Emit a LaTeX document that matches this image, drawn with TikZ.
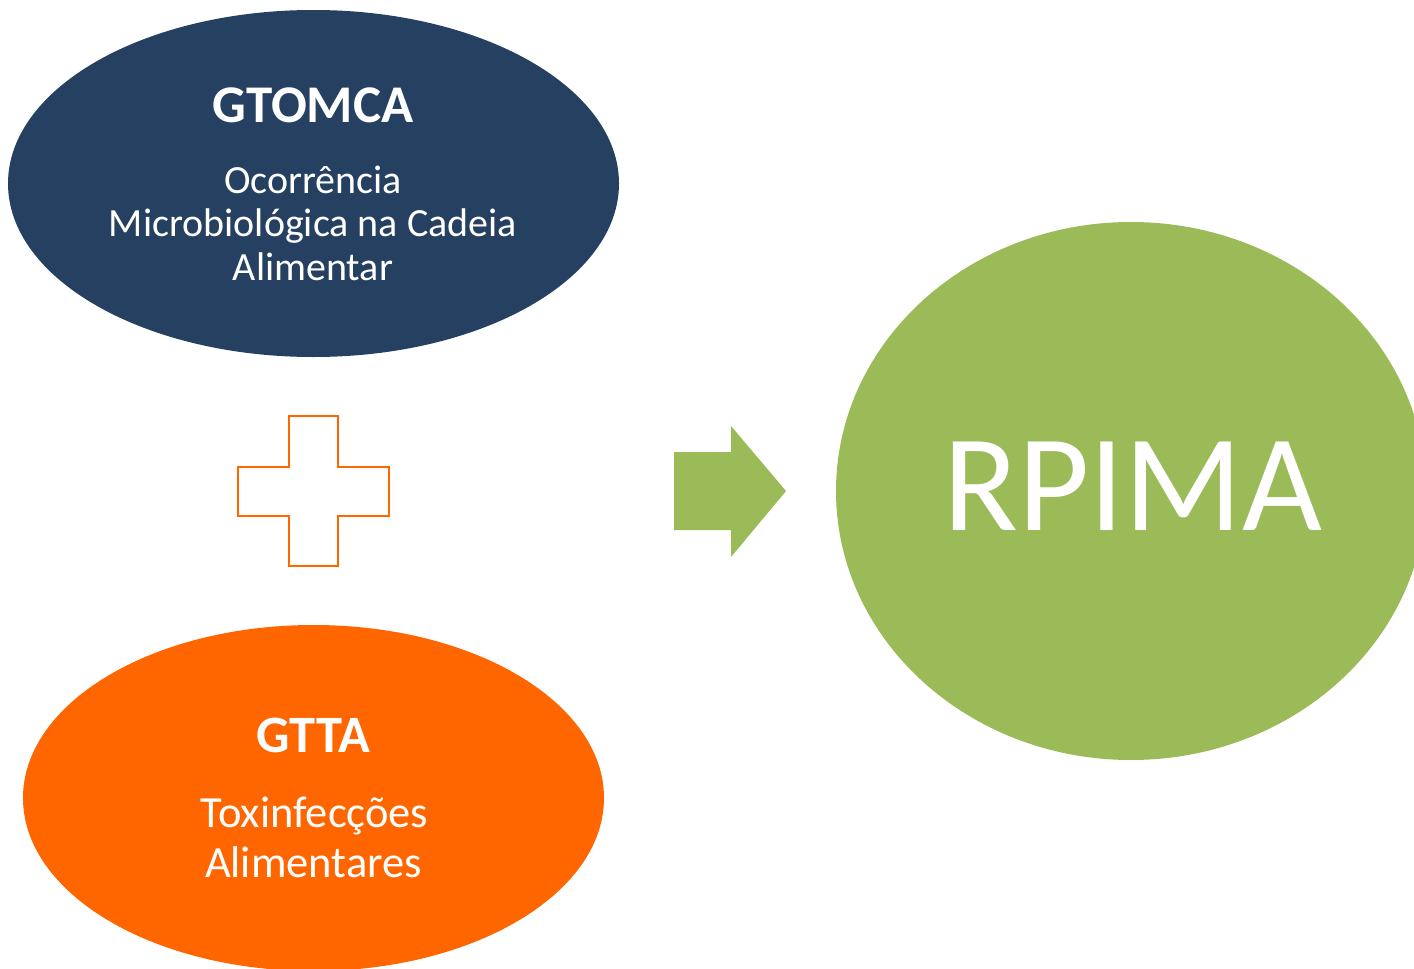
\documentclass[tikz,border=0pt]{standalone}
\usepackage{fontspec}
\setmainfont{Carlito}
\usetikzlibrary{shapes.geometric}
\definecolor{navy}{HTML}{264061}
\definecolor{orng}{HTML}{FF6600}
\definecolor{grn}{HTML}{9BBB59}
\tikzset{
  blob/.style={ellipse, inner sep=0pt, draw=none},
  txt/.style={text=white, inner sep=0pt, anchor=base},
}
\begin{document}
\begin{tikzpicture}[x=1pt,y=-1pt]
\useasboundingbox (0,0) rectangle (1414,969);
\clip (0,0) rectangle (1414,969);
% ellipses
\node[blob, fill=navy, minimum width=611pt, minimum height=347pt] (top) at (313.5,183.5) {};
\node[blob, fill=orng, minimum width=581pt, minimum height=346pt] (bot) at (313.5,798) {};
\node[blob, fill=grn, minimum width=590pt, minimum height=538pt] (res) at (1131,491) {};
% texts
\node[txt] (t1) at (313,122) {\fontsize{53}{60}\selectfont\bfseries GTOMCA};
\node[txt] (t2) at (313,193) {\fontsize{40}{44}\selectfont Ocorrência};
\node[txt] (t3) at (313,236.5) {\fontsize{40}{44}\selectfont Microbiológica na Cadeia};
\node[txt] (t4) at (313,280) {\fontsize{40}{44}\selectfont Alimentar};
\node[txt] (b1) at (313.5,752) {\fontsize{52.5}{60}\selectfont\bfseries GTTA};
\node[txt] (b2) at (314.5,827) {\fontsize{44.5}{50}\selectfont Toxinfecções};
\node[txt] (b3) at (313.5,877) {\fontsize{44.5}{50}\selectfont Alimentares};
\node[txt] (r1) at (1133,530) {\fontsize{138}{150}\selectfont RPIMA};
% plus sign
\draw[orng, line width=1.8pt, line join=miter]
  (289,416) -- (338,416) -- (338,467) -- (389,467) -- (389,516) -- (338,516)
  -- (338,566) -- (289,566) -- (289,516) -- (238,516) -- (238,467) -- (289,467) -- cycle;
% arrow
\fill[grn] (674,452) -- (731,452) -- (731,426) -- (786,491) -- (731,557) -- (731,530) -- (674,530) -- cycle;
\end{tikzpicture}
\end{document}
